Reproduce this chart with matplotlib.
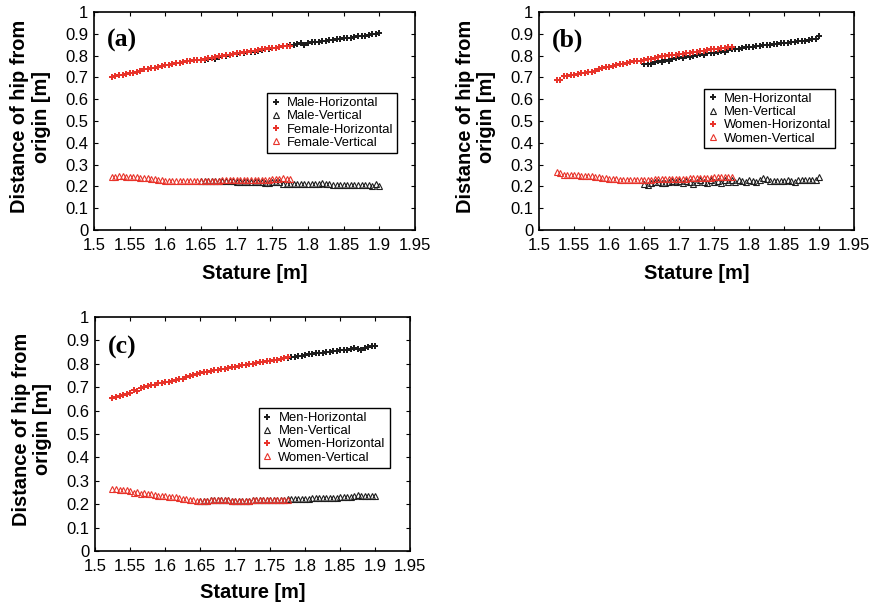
import numpy as np
from matplotlib import pyplot as plt

plt.rcParams['font.family'] = ['Liberation Sans', 'DejaVu Sans']

# stature grids [m]
stature_f = np.round(np.arange(1.525, 1.7751, 0.005), 3)
stature_m = np.round(np.arange(1.650, 1.9001, 0.005), 3)

# ---- panel (a) ----
a_male_h = [0.778, 0.781, 0.784, 0.788, 0.786, 0.792, 0.796, 0.800, 0.803, 0.806,
            0.809, 0.811, 0.814, 0.816, 0.818, 0.815, 0.822, 0.826, 0.828, 0.830,
            0.833, 0.836, 0.838, 0.842, 0.845, 0.848, 0.850, 0.853, 0.856, 0.849,
            0.858, 0.862, 0.863, 0.864, 0.866, 0.868, 0.870, 0.873, 0.876, 0.877,
            0.879, 0.881, 0.883, 0.885, 0.888, 0.890, 0.892, 0.896, 0.899, 0.901,
            0.903]
a_male_v = [0.227, 0.227, 0.226, 0.226, 0.226, 0.225, 0.225, 0.224, 0.223, 0.223,
            0.222, 0.222, 0.221, 0.220, 0.221, 0.219, 0.218, 0.218, 0.217, 0.217,
            0.218, 0.218, 0.220, 0.213, 0.212, 0.212, 0.212, 0.211, 0.211, 0.211,
            0.211, 0.211, 0.211, 0.210, 0.216, 0.211, 0.209, 0.208, 0.207, 0.207,
            0.207, 0.207, 0.207, 0.207, 0.207, 0.208, 0.206, 0.208, 0.202, 0.212,
            0.203]
a_female_h = [0.702, 0.706, 0.709, 0.712, 0.716, 0.719, 0.721, 0.724, 0.729, 0.737,
              0.739, 0.741, 0.745, 0.750, 0.754, 0.756, 0.758, 0.762, 0.765, 0.768,
              0.771, 0.774, 0.776, 0.778, 0.780, 0.782, 0.786, 0.789, 0.791, 0.794,
              0.797, 0.799, 0.802, 0.805, 0.808, 0.810, 0.812, 0.815, 0.818, 0.820,
              0.823, 0.826, 0.828, 0.830, 0.833, 0.835, 0.837, 0.840, 0.842, 0.844,
              0.846]
a_female_v = [0.245, 0.244, 0.248, 0.246, 0.243, 0.242, 0.244, 0.243, 0.240, 0.238,
              0.237, 0.235, 0.233, 0.231, 0.229, 0.226, 0.225, 0.224, 0.224, 0.223,
              0.223, 0.223, 0.223, 0.223, 0.225, 0.225, 0.226, 0.226, 0.227, 0.227,
              0.227, 0.228, 0.229, 0.229, 0.230, 0.231, 0.230, 0.229, 0.229, 0.229,
              0.229, 0.228, 0.228, 0.229, 0.230, 0.232, 0.233, 0.235, 0.238, 0.235,
              0.232]

# ---- panel (b) ----
b_men_h = [0.760, 0.762, 0.762, 0.770, 0.775, 0.772, 0.779, 0.776, 0.785, 0.790,
           0.792, 0.789, 0.797, 0.795, 0.797, 0.802, 0.806, 0.803, 0.811, 0.813,
           0.812, 0.818, 0.823, 0.817, 0.826, 0.830, 0.832, 0.830, 0.836, 0.838,
           0.840, 0.839, 0.843, 0.846, 0.848, 0.848, 0.850, 0.852, 0.854, 0.856,
           0.858, 0.860, 0.861, 0.863, 0.865, 0.867, 0.869, 0.871, 0.874, 0.878,
           0.888]
b_men_v = [0.212, 0.208, 0.215, 0.218, 0.222, 0.214, 0.216, 0.222, 0.225, 0.219,
           0.224, 0.215, 0.226, 0.218, 0.213, 0.220, 0.228, 0.222, 0.214, 0.229,
           0.222, 0.225, 0.216, 0.230, 0.222, 0.228, 0.221, 0.230, 0.226, 0.220,
           0.230, 0.224, 0.222, 0.228, 0.240, 0.232, 0.226, 0.224, 0.225, 0.226,
           0.227, 0.228, 0.226, 0.221, 0.228, 0.230, 0.229, 0.230, 0.231, 0.229,
           0.242]
b_women_h = [0.688, 0.689, 0.705, 0.706, 0.709, 0.712, 0.715, 0.718, 0.721, 0.724,
             0.727, 0.731, 0.737, 0.742, 0.747, 0.750, 0.753, 0.756, 0.760, 0.763,
             0.766, 0.770, 0.773, 0.775, 0.777, 0.780, 0.783, 0.786, 0.788, 0.792,
             0.796, 0.799, 0.801, 0.803, 0.805, 0.807, 0.809, 0.811, 0.813, 0.815,
             0.817, 0.820, 0.823, 0.827, 0.828, 0.829, 0.831, 0.834, 0.836, 0.838,
             0.840]
b_women_v = [0.265, 0.263, 0.254, 0.252, 0.252, 0.251, 0.251, 0.250, 0.250, 0.249,
             0.248, 0.245, 0.243, 0.240, 0.238, 0.236, 0.234, 0.232, 0.231, 0.231,
             0.231, 0.231, 0.230, 0.230, 0.230, 0.230, 0.230, 0.231, 0.232, 0.233,
             0.233, 0.233, 0.233, 0.234, 0.234, 0.234, 0.235, 0.236, 0.237, 0.237,
             0.238, 0.238, 0.238, 0.239, 0.240, 0.241, 0.241, 0.241, 0.242, 0.242,
             0.243]

# ---- panel (c) ----
c_men_h = [0.761, 0.764, 0.767, 0.770, 0.772, 0.774, 0.777, 0.779, 0.782, 0.785,
           0.787, 0.790, 0.793, 0.795, 0.798, 0.801, 0.804, 0.806, 0.809, 0.811,
           0.813, 0.815, 0.818, 0.821, 0.824, 0.826, 0.829, 0.830, 0.832, 0.835,
           0.838, 0.840, 0.843, 0.845, 0.846, 0.848, 0.850, 0.852, 0.854, 0.856,
           0.857, 0.859, 0.861, 0.864, 0.867, 0.865, 0.860, 0.869, 0.872, 0.875,
           0.877]
c_men_v = [0.214, 0.215, 0.215, 0.216, 0.216, 0.216, 0.216, 0.216, 0.216, 0.215,
           0.215, 0.215, 0.215, 0.215, 0.215, 0.216, 0.216, 0.216, 0.217, 0.217,
           0.217, 0.217, 0.217, 0.218, 0.218, 0.222, 0.224, 0.224, 0.223, 0.223,
           0.224, 0.224, 0.225, 0.225, 0.226, 0.226, 0.227, 0.226, 0.228, 0.228,
           0.229, 0.229, 0.230, 0.231, 0.233, 0.240, 0.236, 0.233, 0.234, 0.235,
           0.236]
c_women_h = [0.652, 0.657, 0.662, 0.665, 0.670, 0.676, 0.690, 0.683, 0.695, 0.700,
             0.705, 0.708, 0.710, 0.718, 0.720, 0.722, 0.724, 0.727, 0.729, 0.733,
             0.736, 0.745, 0.748, 0.752, 0.757, 0.761, 0.764, 0.767, 0.770, 0.772,
             0.774, 0.777, 0.779, 0.782, 0.785, 0.787, 0.790, 0.793, 0.795, 0.798,
             0.801, 0.804, 0.806, 0.809, 0.811, 0.813, 0.815, 0.818, 0.821, 0.824,
             0.827]
c_women_v = [0.265, 0.263, 0.261, 0.260, 0.259, 0.257, 0.248, 0.252, 0.245, 0.247,
             0.243, 0.245, 0.238, 0.234, 0.236, 0.234, 0.232, 0.230, 0.229, 0.225,
             0.224, 0.221, 0.220, 0.218, 0.215, 0.213, 0.214, 0.215, 0.216, 0.216,
             0.216, 0.216, 0.216, 0.216, 0.215, 0.215, 0.215, 0.215, 0.215, 0.215,
             0.216, 0.216, 0.216, 0.217, 0.217, 0.217, 0.217, 0.217, 0.218, 0.218,
             0.218]

x_ticks = [1.5, 1.55, 1.6, 1.65, 1.7, 1.75, 1.8, 1.85, 1.9, 1.95]
x_ticklabels = ['1.5', '1.55', '1.6', '1.65', '1.7', '1.75', '1.8', '1.85', '1.9', '1.95']
y_ticks = [0, 0.1, 0.2, 0.3, 0.4, 0.5, 0.6, 0.7, 0.8, 0.9, 1.0]
y_ticklabels = ['0', '0.1', '0.2', '0.3', '0.4', '0.5', '0.6', '0.7', '0.8', '0.9', '1']

RED = '#e8332a'
DARK = '#1e1e1e'


def draw_panel(ax, tag, men, women, mh, mv, wh, wv, leg_pos, xlab_y):
    ax.plot(stature_m, mh, ls='none', marker='P', ms=4.2, color=DARK,
            mew=0, label=men + '-Horizontal')
    ax.plot(stature_m, mv, ls='none', marker='^', ms=4.0, mfc='none',
            mec=DARK, mew=0.8, label=men + '-Vertical')
    ax.plot(stature_f, wh, ls='none', marker='P', ms=4.2, color=RED,
            mew=0, label=women + '-Horizontal')
    ax.plot(stature_f, wv, ls='none', marker='^', ms=4.0, mfc='none',
            mec=RED, mew=0.8, label=women + '-Vertical')

    ax.set_xlim(1.5, 1.95)
    ax.set_ylim(0, 1)
    ax.set_xticks(x_ticks)
    ax.set_xticklabels(x_ticklabels)
    ax.set_yticks(y_ticks)
    ax.set_yticklabels(y_ticklabels)
    ax.tick_params(direction='in', length=3, width=0.8, top=True, right=True,
                   labelsize=12)
    ax.tick_params(axis='x', pad=5.5)
    ax.tick_params(axis='y', pad=4)
    for s in ax.spines.values():
        s.set_linewidth(1.2)

    ax.set_xlabel('Stature [m]', fontsize=14.4, fontweight='bold')
    ax.xaxis.set_label_coords(0.5, xlab_y)
    ax.set_ylabel('Distance of hip from\norigin [m]', fontsize=14.4,
                  fontweight='bold', multialignment='center',
                  linespacing=1.15)
    ax.yaxis.set_label_coords(-0.135, 0.52)
    ax.text(0.04, 0.87, tag, transform=ax.transAxes, fontsize=18.5,
            fontweight='bold', family='Liberation Serif', va='center')

    leg = ax.legend(loc='upper left', bbox_to_anchor=leg_pos, fontsize=9.4,
                    frameon=True, fancybox=False, framealpha=1,
                    edgecolor='black', handlelength=0.7, handletextpad=0.5,
                    borderpad=0.3, labelspacing=0.08, borderaxespad=0)
    leg.get_frame().set_linewidth(1.0)


fig = plt.figure(figsize=(8.8, 6.06), dpi=100)

ax_a = fig.add_axes([94 / 880, 1 - 230 / 606, 321 / 880, 218 / 606])
ax_b = fig.add_axes([539 / 880, 1 - 230 / 606, 315 / 880, 218 / 606])
ax_c = fig.add_axes([95 / 880, 1 - 551 / 606, 315 / 880, 234 / 606])

draw_panel(ax_a, '(a)', 'Male', 'Female', a_male_h, a_male_v,
           a_female_h, a_female_v, (0.539, 0.628), -0.158)
draw_panel(ax_b, '(b)', 'Men', 'Women', b_men_h, b_men_v,
           b_women_h, b_women_v, (0.524, 0.647), -0.158)
draw_panel(ax_c, '(c)', 'Men', 'Women', c_men_h, c_men_v,
           c_women_h, c_women_v, (0.52, 0.611), -0.135)

fig.savefig('out.png', dpi=100)
